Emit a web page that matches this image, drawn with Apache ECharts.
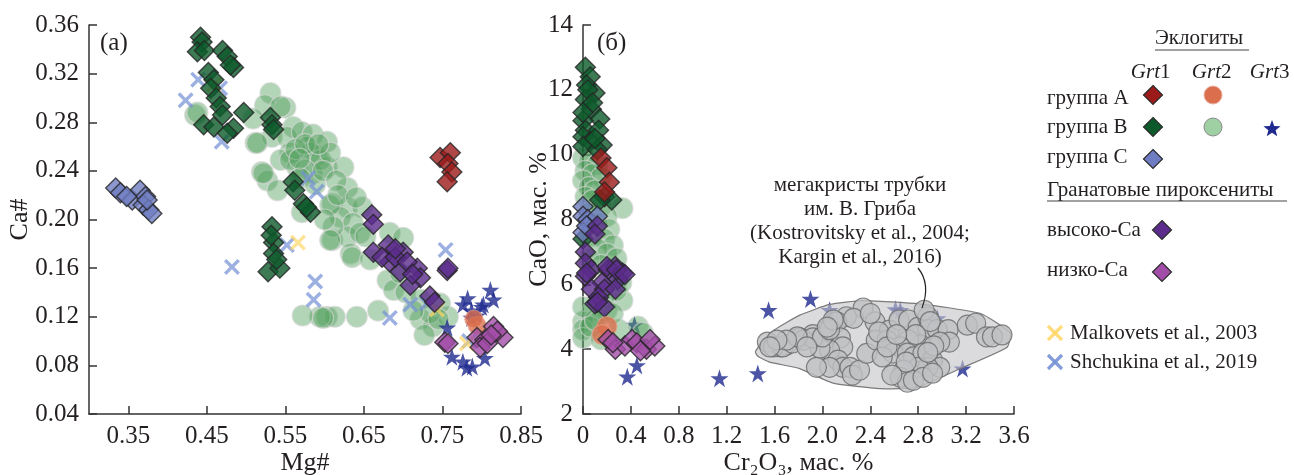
<!DOCTYPE html>
<html>
<head>
<meta charset="utf-8">
<script src="https://cdn.jsdelivr.net/npm/echarts@6/dist/echarts.min.js"></script>
<style>
  html, body { margin: 0; padding: 0; background: #fff; }
  #chart { width: 1294px; height: 475px; }
</style>
</head>
<body>
<div id="chart"></div>
<script>
// ---- panel (a): Mg# vs Ca# ----
const aGroupA = [[0.747,0.251],[0.760,0.255],[0.757,0.246],[0.762,0.239],[0.756,0.231]];
const aGroupB = [[0.442,0.350],[0.444,0.346],[0.438,0.338],[0.447,0.339],[0.470,0.339],[0.476,0.334],[0.484,0.325],[0.480,0.327],
  [0.452,0.321],[0.459,0.315],[0.455,0.308],[0.462,0.300],[0.467,0.293],[0.470,0.286],[0.497,0.288],[0.446,0.278],[0.459,0.276],
  [0.484,0.275],[0.476,0.271],[0.531,0.284],[0.533,0.278],[0.535,0.274],[0.560,0.231],[0.562,0.224],[0.573,0.213],[0.582,0.206],
  [0.577,0.210],[0.533,0.194],[0.535,0.181],[0.535,0.172],[0.528,0.157],[0.543,0.160],[0.539,0.167],[0.532,0.187]];
const aGroupC = [[0.334,0.226],[0.340,0.222],[0.355,0.216],[0.365,0.224],[0.372,0.219],[0.369,0.212],[0.376,0.208],[0.380,0.205],
  [0.374,0.216],[0.348,0.219]];
const aHighCa = [[0.660,0.204],[0.662,0.196],[0.662,0.173],[0.681,0.179],[0.700,0.173],[0.683,0.165],[0.696,0.157],[0.718,0.160],
  [0.722,0.152],[0.709,0.146],[0.734,0.137],[0.740,0.132],[0.756,0.158],[0.757,0.160],[0.673,0.169],[0.690,0.169],[0.705,0.165],
  [0.712,0.155],[0.690,0.176]];
const aLowCa = [[0.753,0.099],[0.757,0.098],[0.794,0.103],[0.804,0.101],[0.815,0.112],[0.827,0.103],[0.798,0.095],[0.807,0.098],
  [0.820,0.108],[0.812,0.105]];
const aGrt2A = [[0.794,0.113],[0.790,0.118]];
const aGrt2B = [[0.531,0.304],[0.524,0.294],[0.550,0.292],[0.435,0.286],[0.438,0.288],[0.512,0.263],[0.509,0.283],[0.533,0.268],
  [0.560,0.276],[0.552,0.268],[0.571,0.272],[0.585,0.270],[0.603,0.264],[0.578,0.260],[0.590,0.253],[0.556,0.255],[0.544,0.249],
  [0.565,0.243],[0.603,0.243],[0.624,0.243],[0.585,0.238],[0.520,0.239],[0.527,0.232],[0.540,0.224],[0.629,0.226],[0.610,0.213],
  [0.629,0.210],[0.648,0.210],[0.620,0.202],[0.636,0.197],[0.610,0.183],[0.629,0.186],[0.645,0.189],[0.633,0.172],[0.571,0.206],
  [0.556,0.249],[0.582,0.255],[0.595,0.249],[0.575,0.241],[0.607,0.255],[0.563,0.258],[0.569,0.234],[0.588,0.229],[0.544,0.293],
  [0.514,0.263],[0.522,0.238],[0.607,0.212],[0.611,0.194],[0.607,0.183],[0.652,0.186],[0.683,0.189],[0.700,0.185],[0.635,0.169],
  [0.658,0.167],[0.680,0.150],[0.688,0.142],[0.703,0.140],[0.722,0.134],[0.603,0.120],[0.613,0.120],[0.641,0.120],[0.668,0.125],
  [0.722,0.118],[0.738,0.112],[0.757,0.120],[0.734,0.123],[0.713,0.125],[0.747,0.131],[0.696,0.156],[0.594,0.120],[0.572,0.121],
  [0.598,0.119],[0.727,0.105],[0.745,0.118],[0.575,0.262],[0.592,0.262],[0.568,0.250],[0.598,0.240],[0.615,0.232],[0.617,0.220],
  [0.640,0.218],[0.600,0.200]];
const aGrt3 = [[0.811,0.142],[0.776,0.130],[0.787,0.125],[0.802,0.130],[0.815,0.134],[0.794,0.121],[0.787,0.119],[0.756,0.111],
  [0.762,0.087],[0.776,0.083],[0.788,0.079],[0.804,0.086],[0.781,0.078],[0.800,0.128],[0.782,0.135]];
const aMalkovets = [[0.459,0.311],[0.566,0.181],[0.743,0.126],[0.781,0.098]];
const aShchukina = [[0.423,0.298],[0.439,0.315],[0.467,0.308],[0.469,0.264],[0.579,0.234],[0.590,0.223],[0.552,0.179],[0.482,0.161],
  [0.588,0.149],[0.586,0.134],[0.754,0.175],[0.683,0.119],[0.709,0.130],[0.730,0.131],[0.784,0.100]];

// ---- panel (б): Cr2O3 vs CaO ----
const bGroupA = [[0.15,9.9],[0.20,9.6],[0.22,9.15],[0.18,8.85]];
const bGroupB = [[0.02,12.7],[0.06,12.4],[0.03,12.15],[0.10,11.9],[0.02,11.7],[0.07,11.4],[0.14,11.1],[0.0,11.05],[0.02,10.75],
  [0.13,10.75],[0.0,10.55],[0.06,10.4],[0.16,10.3],[0.0,10.25],[0.12,10.15],[0.18,8.7],[0.24,8.6],[0.14,8.6],[0.0,7.4],
  [0.04,12.0],[0.08,11.6],[0.0,11.3],[0.1,10.5]];
const bGroupC = [[0.0,8.4],[0.0,8.1],[0.04,8.0],[0.12,8.1],[0.0,7.6],[0.03,7.8]];
const bHighCa = [[0.12,7.8],[0.10,7.55],[0.02,7.0],[0.02,6.65],[0.07,6.45],[0.02,6.25],[0.21,6.45],[0.27,6.55],[0.33,6.35],
  [0.29,6.15],[0.16,6.05],[0.07,5.85],[0.18,5.85],[0.27,5.85],[0.13,5.6],[0.10,5.4],[0.18,5.3],[0.03,6.35],[0.20,6.55],[0.28,6.45],
  [0.35,6.3],[0.12,5.45]];
const bLowCa = [[0.21,4.3],[0.27,4.0],[0.35,4.1],[0.41,4.3],[0.45,4.2],[0.53,4.0],[0.60,4.1],[0.48,3.95],[0.25,4.2],[0.56,4.3]];
const bGrt2A = [[0.20,4.7],[0.16,4.45]];
const bGrt2B = [[0.0,9.9],[0.05,9.8],[0.12,9.7],[0.02,9.5],[0.08,9.4],[0.15,9.3],[0.0,9.2],[0.05,9.0],[0.1,8.9],[0.02,8.7],
  [0.08,8.6],[0.33,8.35],[0.15,8.4],[0.05,8.2],[0.2,8.1],[0.12,7.9],[0.22,7.7],[0.08,7.5],[0.18,7.4],[0.25,7.2],[0.12,7.1],
  [0.2,6.95],[0.05,6.8],[0.28,6.8],[0.15,6.6],[0.3,6.2],[0.33,5.5],[0.28,5.8],[0.32,6.05],[0.18,5.6],[0.08,5.2],[0.2,5.2],
  [0.12,5.0],[0.0,4.85],[0.0,4.6],[0.0,4.35],[0.06,4.7],[0.15,4.3],[0.3,4.6],[0.46,4.7],[0.5,4.5],[0.1,4.9],[0.25,5.1],[0.0,5.3]];
const bGrt3 = [[0.37,3.15],[0.45,3.5],[0.43,4.75],[1.14,3.1],[1.46,3.25],[1.55,5.2],[1.90,5.55],[2.06,5.2],[2.61,5.23],
  [2.65,5.2],[2.96,4.95],[3.17,3.4]];
const megacrystHull = [[1.44,3.92],[1.50,4.25],[1.60,4.6],[1.81,5.05],[2.06,5.38],[2.33,5.5],[2.81,5.4],[3.32,5.1],[3.57,4.5],
  [3.54,4.05],[3.12,3.35],[2.79,2.82],[2.48,2.78],[2.09,2.95],[1.81,3.4],[1.56,3.6],[1.46,3.78]];
const megacrysts = [[2.34,5.27],[2.44,4.84],[2.20,5.0],[2.12,4.84],[2.04,4.6],[2.01,4.35],[1.92,4.45],[1.81,4.35],[1.70,4.13],
  [1.65,4.07],[2.05,4.35],[2.15,4.35],[2.17,4.07],[2.06,3.97],[1.98,4.03],[2.13,3.66],[2.17,3.44],[2.23,3.44],[2.06,3.44],
  [1.95,3.44],[2.25,3.2],[2.31,3.35],[2.37,3.87],[2.45,4.28],[2.56,4.59],[2.54,4.28],[2.64,4.9],[2.72,4.9],[2.80,4.68],
  [2.88,5.0],[2.88,4.6],[2.96,4.6],[3.05,4.6],[3.06,4.22],[2.98,4.22],[2.82,4.13],[2.72,4.28],[2.65,4.07],[2.59,3.88],
  [2.71,3.88],[2.76,3.76],[2.84,3.88],[2.92,3.66],[2.98,3.44],[2.88,3.44],[2.80,3.44],[2.68,3.35],[2.65,3.13],[2.71,2.98],
  [2.76,3.04],[2.84,3.13],[2.92,3.26],[3.21,4.74],[3.28,4.8],[3.37,4.38],[3.42,4.38],[3.50,4.44],[2.47,4.53],[2.50,3.76],
  [2.54,4.07],[1.54,4.22],[1.59,4.07],[1.67,4.07],[1.75,4.19],[1.84,4.28],[1.92,4.35],[2.0,4.38],[2.06,4.6],[2.09,4.9],
  [2.04,4.68],[1.79,4.38],[1.70,4.28],[1.62,4.28],[1.56,4.07],[1.87,4.07],[2.26,4.95],[2.40,5.1],[2.85,5.2],[2.90,4.85],
  [2.78,4.45],[2.62,4.45],[2.93,4.1],[2.70,3.6],[2.58,3.2],[2.88,3.9]];

const aTickValues = [0.35, 0.45, 0.55, 0.65, 0.75, 0.85];

const FONT = '"Liberation Serif", "Times New Roman", serif';
const INK = '#231f20';
const STAR = 'path://M50,0 L61.8,35.3 L100,35.3 L69.1,57.1 L80.9,92.7 L50,70.7 L19.1,92.7 L30.9,57.1 L0,35.3 L38.2,35.3 Z';
const CROSS = 'path://M0,3 L3,0 L10,7 L17,0 L20,3 L13,10 L20,17 L17,20 L10,13 L3,20 L0,17 L7,10 Z';

const C = {
  grpA: '#9c1a1a', grpB: '#0c5a2b', grpC: '#6f7dc2', high: '#5b2c8c', low: '#a24ea8',
  grt2A: '#db6e4c', grt2B: 'rgba(80,160,92,0.55)', grt3: '#1f2a8e',
  malk: 'rgba(255,214,100,0.85)', shch: 'rgba(118,146,214,0.9)'
};

const axisLine = { lineStyle: { color: '#333', width: 1.5 } };
const axisTick = { inside: true, length: 8, lineStyle: { color: '#333', width: 1.5 } };
const axisLabel = { color: INK, fontFamily: FONT, fontSize: 25, margin: 10 };
const nameStyle = { color: INK, fontFamily: FONT, fontSize: 26 };

function diamonds(name, data, color, xi, z) {
  return { name, type: 'scatter', xAxisIndex: xi, yAxisIndex: xi, data, symbol: 'diamond', symbolSize: 20, z,
    itemStyle: { color, borderColor: '#262626', borderWidth: 1.4 } };
}
function circles(name, data, color, border, xi, z, size) {
  return { name, type: 'scatter', xAxisIndex: xi, yAxisIndex: xi, data, symbol: 'circle', symbolSize: size || 21, z,
    itemStyle: { color, borderColor: border, borderWidth: 1.2 } };
}
function stars(data, xi, z) {
  return { name: 'Grt3', type: 'scatter', xAxisIndex: xi, yAxisIndex: xi, data, symbol: STAR, symbolSize: 18, z,
    itemStyle: { color: C.grt3 } };
}
function crosses(name, data, color, xi, z) {
  return { name, type: 'scatter', xAxisIndex: xi, yAxisIndex: xi, data, symbol: CROSS, symbolSize: 16, z,
    itemStyle: { color } };
}

// legend drawn as graphic elements
const lx = 1047;
function txt(x, y, text, opts) {
  return { type: 'text', x, y, z: 100,
    style: Object.assign({ text, fill: INK, font: '21px ' + FONT, textAlign: 'left', textVerticalAlign: 'middle' }, opts || {}) };
}
function dia(cx, cy, color) {
  const r = 9.5;
  return { type: 'polygon', z: 100, shape: { points: [[cx, cy - r], [cx + r, cy], [cx, cy + r], [cx - r, cy]] },
    style: { fill: color, stroke: '#2b2b2b', lineWidth: 1.2 } };
}
function starShape(cx, cy, r, color) {
  const pts = [];
  for (let i = 0; i < 10; i++) {
    const rr = i % 2 ? r * 0.42 : r;
    const a = -Math.PI / 2 + i * Math.PI / 5;
    pts.push([cx + rr * Math.cos(a), cy + rr * Math.sin(a)]);
  }
  return { type: 'polygon', z: 100, shape: { points: pts }, style: { fill: color } };
}
function crossShape(cx, cy, color) {
  const s = 7;
  return { type: 'group', z: 100, children: [
    { type: 'line', shape: { x1: cx - s, y1: cy - s, x2: cx + s, y2: cy + s }, style: { stroke: color, lineWidth: 3.2 } },
    { type: 'line', shape: { x1: cx - s, y1: cy + s, x2: cx + s, y2: cy - s }, style: { stroke: color, lineWidth: 3.2 } }
  ] };
}
function grtHead(xSplit, num) {
  return [
    txt(xSplit, 72, 'Grt', { textAlign: 'right', font: 'italic 21px ' + FONT }),
    txt(xSplit, 72, num, { textAlign: 'left' })
  ];
}
const legendGraphic = [
  txt(1155, 38, 'Эклогиты'),
  { type: 'line', z: 100, shape: { x1: 1155, y1: 50, x2: 1249, y2: 50 }, style: { stroke: '#444', lineWidth: 1 } },
  ...grtHead(1160, '1'), ...grtHead(1221, '2'), ...grtHead(1279, '3'),
  txt(lx, 98, 'группа A'), dia(1153, 95, C.grpA),
  { type: 'circle', z: 100, shape: { cx: 1213, cy: 95, r: 9 }, style: { fill: C.grt2A, stroke: '#e8b0a0', lineWidth: 1 } },
  txt(lx, 127, 'группа B'), dia(1153, 127, C.grpB),
  { type: 'circle', z: 100, shape: { cx: 1213, cy: 127, r: 9 }, style: { fill: '#9fd0a3', stroke: '#8a8a8a', lineWidth: 1 } },
  starShape(1272, 129, 9, C.grt3),
  txt(lx, 157, 'группа C'), dia(1153, 159, C.grpC),
  txt(lx, 190, 'Гранатовые пироксениты'),
  { type: 'line', z: 100, shape: { x1: 1047, y1: 201, x2: 1287, y2: 201 }, style: { stroke: '#444', lineWidth: 1 } },
  txt(lx, 230, 'высоко-Ca'), dia(1162, 230, C.high),
  txt(lx, 270, 'низко-Ca'), dia(1162, 272, C.low),
  crossShape(1055, 333, C.malk),
  txt(1070, 333, 'Malkovets et al., 2003'),
  crossShape(1055, 362, C.shch),
  txt(1070, 362, 'Shchukina et al., 2019'),
  // panel labels
  txt(100, 43, '(a)', { font: '25px ' + FONT }),
  txt(597, 43, '(б)', { font: '25px ' + FONT }),
  // megacryst annotation
  txt(860, 185, 'мегакристы трубки', { textAlign: 'center' }),
  txt(860, 209, 'им. В. Гриба', { textAlign: 'center' }),
  txt(860, 233, '(Kostrovitsky et al., 2004;', { textAlign: 'center' }),
  txt(860, 257, 'Kargin et al., 2016)', { textAlign: 'center' }),
  { type: 'bezierCurve', z: 100, shape: { x1: 918, y1: 268, cpx1: 931, cpy1: 284, x2: 922, y2: 308 },
    style: { stroke: '#222', lineWidth: 1.2, fill: null } }
];

const chart = echarts.init(document.getElementById('chart'));
chart.setOption({
  animation: false,
  backgroundColor: '#fff',
  grid: [
    { left: 89, top: 25, width: 432, height: 389, outerBoundsMode: 'none' },
    { left: 583, top: 25, width: 431, height: 389, outerBoundsMode: 'none' }
  ],
  xAxis: [
    { gridIndex: 0, type: 'value', min: 0.30, max: 0.85, name: 'Mg#', nameLocation: 'middle', nameGap: 36, nameMoveOverlap: false,
      nameTextStyle: nameStyle, splitLine: { show: false }, axisLine,
      axisTick: Object.assign({ customValues: aTickValues }, axisTick),
      axisLabel: Object.assign({ customValues: aTickValues, formatter: v => v.toFixed(2) }, axisLabel) },
    { gridIndex: 1, type: 'value', min: 0, max: 3.6, interval: 0.4, name: 'Cr₂O₃, мас. %', nameLocation: 'middle', nameGap: 36,
      nameMoveOverlap: false,
      nameTextStyle: nameStyle, splitLine: { show: false }, axisLine, axisTick,
      axisLabel: Object.assign({ formatter: v => (v === 0 ? '0' : v.toFixed(1)) }, axisLabel) }
  ],
  yAxis: [
    { gridIndex: 0, type: 'value', min: 0.04, max: 0.36, interval: 0.04, name: 'Ca#', nameLocation: 'middle', nameGap: 56,
      nameMoveOverlap: false,
      nameTextStyle: nameStyle, splitLine: { show: false }, axisLine, axisTick,
      axisLabel: Object.assign({ formatter: v => v.toFixed(2) }, axisLabel) },
    { gridIndex: 1, type: 'value', min: 2, max: 14, interval: 2, name: 'CaO, мас. %', nameLocation: 'middle', nameGap: 31,
      nameMoveOverlap: false,
      nameTextStyle: nameStyle, splitLine: { show: false }, axisLine, axisTick, axisLabel }
  ],
  graphic: legendGraphic,
  series: [
    // panel (a)
    circles('Grt2 B', aGrt2B, C.grt2B, 'rgba(215,215,215,0.8)', 0, 2),
    crosses('Shchukina et al., 2019', aShchukina, C.shch, 0, 3),
    crosses('Malkovets et al., 2003', aMalkovets, C.malk, 0, 3),
    stars(aGrt3, 0, 4),
    diamonds('группа B', aGroupB, C.grpB, 0, 5),
    diamonds('группа C', aGroupC, C.grpC, 0, 5),
    diamonds('группа A', aGroupA, C.grpA, 0, 5),
    diamonds('высоко-Ca', aHighCa, C.high, 0, 5),
    circles('Grt2 A', aGrt2A, C.grt2A, 'rgba(230,160,140,0.8)', 0, 6, 18),
    diamonds('низко-Ca', aLowCa, C.low, 0, 7),
    // panel (б)
    stars(bGrt3, 1, 2),
    circles('Grt2 B', bGrt2B, C.grt2B, 'rgba(215,215,215,0.8)', 1, 3),
    {
      name: 'hull', type: 'custom', xAxisIndex: 1, yAxisIndex: 1, z: 4, silent: true,
      data: [0],
      renderItem: (params, api) => ({
        type: 'polygon',
        shape: { points: megacrystHull.map(p => api.coord(p)), smooth: 0.15 },
        style: { fill: 'rgba(195,195,198,0.6)', stroke: '#7a7a7a', lineWidth: 1.2 }
      })
    },
    circles('мегакристы', megacrysts, '#bfc1c3', '#6a6a6a', 1, 5, 20),
    diamonds('группа B', bGroupB, C.grpB, 1, 6),
    diamonds('группа A', bGroupA, C.grpA, 1, 6),
    diamonds('группа C', bGroupC, C.grpC, 1, 6),
    diamonds('высоко-Ca', bHighCa, C.high, 1, 7),
    circles('Grt2 A', bGrt2A, C.grt2A, 'rgba(230,160,140,0.8)', 1, 7, 20),
    diamonds('низко-Ca', bLowCa, C.low, 1, 8)
  ]
});
</script>
</body>
</html>
